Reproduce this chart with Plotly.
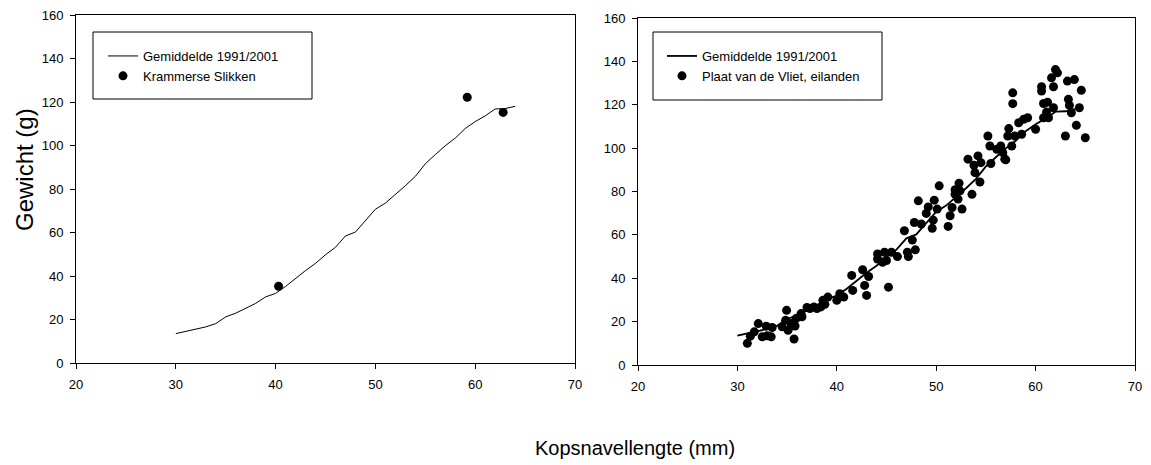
import plotly.graph_objects as go

W, H = 1151, 465

# ---- data ----
mean_len = list(range(30, 65))
mean_weight = [13.5, 14.6, 15.5, 16.6, 18.1, 21.2, 22.9, 25.0, 27.4, 30.4,
               32.0, 35.2, 39.0, 42.5, 45.8, 49.8, 53.2, 58.4, 60.2, 65.6,
               70.7, 73.5, 77.3, 81.5, 85.8, 91.6, 95.8, 99.9, 103.4, 107.8,
               111.0, 113.6, 116.8, 117.0, 118.0]

kram_len = [40.3, 59.2, 62.8]
kram_weight = [35.3, 122.2, 115.2]

vliet_len = [31.0, 31.3, 31.7, 32.1, 32.5, 32.9, 33.0, 33.4, 33.5, 34.5,
             34.95, 34.85, 35.1, 35.4, 35.7, 35.8, 35.9, 36.4, 36.5, 37.0,
             37.3, 37.7, 38.0, 38.4, 38.6, 38.8, 39.1, 40.0, 40.3, 40.7,
             41.5, 41.6, 42.6, 42.8, 43.0, 43.2, 44.1, 44.1, 44.6, 44.8,
             45.0, 45.2, 45.5, 46.1, 46.8, 47.1, 47.2, 47.6, 47.8, 47.9,
             48.2, 48.5, 49.0, 49.2, 49.6, 49.7, 49.8, 50.1, 50.3, 51.2,
             51.4, 51.6, 51.9, 51.9, 52.2, 52.3, 52.6, 52.4, 53.6, 53.2,
             53.8, 54.2, 54.4, 54.5, 53.9, 55.2, 55.4, 55.5, 56.1, 56.5,
             56.7, 56.9, 57.0, 57.2, 57.3, 57.6, 57.7, 57.7, 57.9, 58.3,
             58.8, 58.6, 59.2, 60.0, 60.6, 60.6, 60.8, 60.8, 61.1, 61.2,
             61.3, 61.6, 61.8, 62.0, 62.2, 61.8, 63.0, 63.2, 63.3, 63.4,
             63.6, 63.9, 64.1, 64.4, 64.6, 65.0]
vliet_weight = [10.0, 13.3, 15.3, 19.1, 13.0, 17.9, 13.5, 13.0, 17.3, 17.6,
                25.2, 20.6, 16.0, 19.1, 12.0, 18.0, 21.4, 23.7, 22.2, 26.5,
                26.0, 26.8, 26.0, 26.8, 29.8, 28.0, 31.3, 29.8, 32.9, 31.3,
                41.3, 34.4, 43.9, 36.7, 32.1, 40.8, 51.2, 48.9, 47.4, 52.0,
                48.2, 35.9, 52.0, 50.0, 61.9, 52.0, 50.0, 57.6, 65.7, 53.1,
                75.7, 65.0, 69.9, 72.9, 63.0, 66.8, 76.0, 71.9, 82.6, 63.9,
                68.8, 72.6, 78.7, 80.8, 76.5, 83.8, 71.9, 80.3, 78.7, 94.9,
                92.1, 96.4, 84.4, 93.3, 88.7, 105.6, 101.0, 92.9, 99.5, 101.0,
                97.9, 94.9, 94.6, 105.6, 109.0, 101.0, 125.5, 120.5, 105.6, 111.7,
                113.3, 106.4, 114.0, 108.7, 128.3, 126.3, 114.0, 120.6, 116.6, 121.2,
                114.0, 132.4, 128.3, 136.2, 134.7, 118.6, 105.6, 130.9, 122.5, 119.7,
                116.3, 131.6, 110.5, 118.6, 126.7, 104.8]

x_ticks = [20, 30, 40, 50, 60, 70]
y_ticks = [0, 20, 40, 60, 80, 100, 120, 140, 160]

FONT = "Liberation Sans, Arial, sans-serif"

fig = go.Figure()

fig.add_trace(go.Scatter(x=mean_len, y=mean_weight, mode="lines",
                         name="Gemiddelde 1991/2001",
                         line=dict(color="black", width=1),
                         xaxis="x", yaxis="y", legend="legend"))
fig.add_trace(go.Scatter(x=kram_len, y=kram_weight, mode="markers",
                         name="Krammerse Slikken",
                         marker=dict(color="black", size=9),
                         xaxis="x", yaxis="y", legend="legend"))

fig.add_trace(go.Scatter(x=vliet_len, y=vliet_weight, mode="markers",
                         name="Plaat van de Vliet, eilanden",
                         marker=dict(color="black", size=9),
                         xaxis="x2", yaxis="y2", legend="legend2"))
fig.add_trace(go.Scatter(x=mean_len, y=mean_weight, mode="lines",
                         name="Gemiddelde 1991/2001",
                         line=dict(color="black", width=1.8),
                         xaxis="x2", yaxis="y2", legend="legend2"))

axis_common = dict(showgrid=False, zeroline=False, showline=True,
                   linecolor="black", linewidth=1, mirror=True,
                   ticks="outside", ticklen=5, tickwidth=1, tickcolor="black",
                   automargin=False,
                   tickfont=dict(family=FONT, size=13, color="black"))

xa = dict(axis_common, range=[20, 70], tickvals=x_ticks, ticklabelstandoff=4)
ya = dict(axis_common, range=[0, 160], tickvals=y_ticks, ticklabelstandoff=4)

fig.update_layout(
    width=W, height=H,
    margin=dict(l=0, r=0, t=0, b=0),
    paper_bgcolor="white", plot_bgcolor="white",
    font=dict(family=FONT, color="black"),
    xaxis=dict(xa, domain=[76 / W, 575 / W], anchor="y"),
    yaxis=dict(ya, domain=[(H - 363) / H, (H - 15) / H], anchor="x"),
    xaxis2=dict(xa, domain=[638 / W, 1135 / W], anchor="y2"),
    yaxis2=dict(ya, domain=[(H - 365) / H, (H - 18) / H], anchor="x2"),
    legend=dict(x=103 / W, y=1 - 41 / H, xanchor="left", yanchor="top",
                bgcolor="rgba(0,0,0,0)", borderwidth=0,
                font=dict(family=FONT, size=13, color="black"),
                traceorder="normal"),
    legend2=dict(x=662 / W, y=1 - 41 / H, xanchor="left", yanchor="top",
                 bgcolor="rgba(0,0,0,0)", borderwidth=0,
                 font=dict(family=FONT, size=13, color="black"),
                 traceorder="reversed"),
    shapes=[
        dict(type="rect", xref="paper", yref="paper",
             x0=93 / W, x1=312 / W, y0=1 - 99 / H, y1=1 - 32 / H,
             line=dict(color="black", width=1), fillcolor="rgba(0,0,0,0)"),
        dict(type="rect", xref="paper", yref="paper",
             x0=653 / W, x1=882 / W, y0=1 - 100 / H, y1=1 - 32 / H,
             line=dict(color="black", width=1), fillcolor="rgba(0,0,0,0)"),
    ],
    annotations=[
        dict(text="Gewicht (g)", xref="paper", yref="paper",
             x=24 / W, y=1 - 170 / H, textangle=-90, showarrow=False,
             xanchor="center", yanchor="middle",
             font=dict(family=FONT, size=24, color="black")),
        dict(text="Kopsnavellengte (mm)", xref="paper", yref="paper",
             x=635 / W, y=1 - 448 / H, showarrow=False,
             xanchor="center", yanchor="middle",
             font=dict(family=FONT, size=20, color="black")),
    ],
)

fig.write_html("out.html",
               config={"displayModeBar": False},
               post_script="document.body.style.margin='0';"
                           "document.body.style.overflow='hidden';")
